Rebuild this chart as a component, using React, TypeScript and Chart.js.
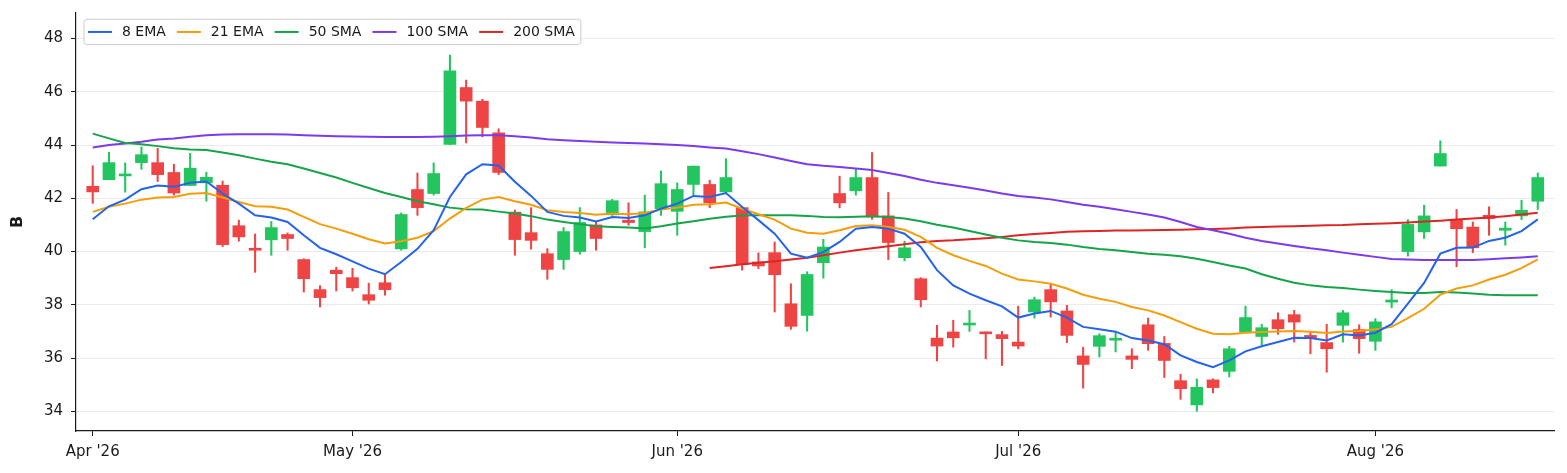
import React, { useEffect, useRef } from "react";
import { Chart, registerables } from "chart.js";

Chart.register(...registerables);

// one trading day per slot, index 0 = first session of April
const xTickPos = [0, 16, 36, 57, 79];
const xTickLabels = ["Apr '26", "May '26", "Jun '26", "Jul '26", "Aug '26"];
const yTicks = [34, 36, 38, 40, 42, 44, 46, 48];

const opens = [42.45, 42.70, 42.84, 43.34, 43.34, 42.97, 42.48, 42.58, 42.49, 40.97,
  40.10, 40.44, 40.64, 39.70, 38.57, 39.30, 39.02, 38.38, 38.83, 40.10,
  42.33, 42.18, 44.02, 46.16, 45.65, 44.46, 41.48, 40.71, 39.92, 39.70,
  40.00, 41.00, 41.38, 41.18, 40.75, 41.61, 41.51, 42.52, 42.52, 42.24,
  41.65, 39.61, 39.96, 38.04, 37.60, 39.58, 42.18, 42.28, 42.78, 41.34,
  39.77, 38.98, 36.75, 36.98, 37.24, 36.98, 36.88, 36.60, 37.73, 38.57,
  37.77, 36.08, 36.44, 36.67, 36.08, 37.25, 36.55, 35.15, 34.24, 35.18,
  35.50, 36.98, 36.81, 37.44, 37.63, 36.85, 36.58, 37.23, 37.07, 36.63,
  38.10, 40.00, 40.74, 43.21, 41.20, 40.92, 41.36, 40.80, 41.34, 41.89];

const highs = [43.22, 43.73, 43.33, 43.93, 43.88, 43.28, 43.69, 42.98, 42.65, 41.18,
  40.66, 41.13, 40.70, 39.73, 38.72, 39.41, 39.37, 38.81, 39.17, 41.45,
  42.95, 43.33, 47.38, 46.44, 45.72, 44.61, 41.56, 41.65, 40.11, 40.90,
  41.65, 41.11, 41.96, 41.83, 42.12, 43.03, 42.58, 43.21, 42.68, 43.49,
  41.65, 39.95, 40.36, 38.79, 39.24, 40.46, 42.83, 43.09, 43.72, 42.22,
  40.39, 39.02, 37.23, 37.42, 37.79, 36.98, 37.00, 37.95, 38.29, 38.76,
  37.98, 36.41, 36.91, 36.95, 36.35, 37.50, 36.81, 35.39, 35.22, 35.22,
  36.44, 37.95, 37.27, 37.70, 37.79, 36.98, 37.27, 37.79, 37.25, 37.48,
  38.57, 41.20, 41.74, 44.16, 41.58, 41.11, 41.68, 41.11, 41.93, 42.95];

const lows = [41.81, 42.70, 42.23, 43.09, 42.63, 42.12, 42.47, 41.89, 40.19, 40.39,
  39.22, 39.86, 40.05, 38.48, 37.92, 38.52, 38.52, 38.03, 38.36, 40.05,
  41.36, 42.12, 44.02, 44.08, 44.31, 42.89, 39.86, 40.09, 38.96, 39.33,
  39.90, 40.05, 41.36, 40.99, 40.14, 41.36, 40.61, 42.12, 41.65, 42.18,
  39.30, 39.36, 37.73, 37.08, 37.01, 39.00, 41.64, 42.12, 41.21, 39.70,
  39.65, 37.92, 35.89, 36.41, 37.00, 35.97, 35.72, 36.35, 37.50, 37.54,
  36.58, 34.87, 36.04, 36.23, 35.60, 36.29, 35.27, 34.45, 34.00, 34.69,
  35.29, 36.98, 36.48, 36.89, 36.60, 36.16, 35.47, 36.60, 36.18, 36.29,
  37.89, 39.83, 40.49, 43.21, 39.43, 39.96, 40.61, 40.24, 41.20, 41.58];

const closes = [42.24, 43.34, 42.89, 43.64, 42.89, 42.20, 43.13, 42.79, 40.26, 40.55,
  40.05, 40.90, 40.49, 38.98, 38.27, 39.17, 38.64, 38.17, 38.57, 41.39,
  41.65, 42.93, 46.79, 45.65, 44.66, 42.97, 40.45, 40.42, 39.33, 40.75,
  41.09, 40.49, 41.91, 41.09, 41.49, 42.55, 42.33, 43.21, 41.83, 42.78,
  39.51, 39.46, 39.13, 37.19, 39.14, 40.17, 41.83, 42.78, 41.30, 40.34,
  40.14, 38.19, 36.45, 36.76, 37.30, 36.91, 36.73, 36.45, 38.19, 38.11,
  36.85, 35.76, 36.84, 36.73, 35.95, 36.54, 35.91, 34.85, 34.90, 34.89,
  36.35, 37.52, 37.14, 37.10, 37.35, 36.75, 36.35, 37.70, 36.73, 37.36,
  38.18, 41.02, 41.34, 43.68, 40.86, 40.14, 41.24, 40.88, 41.55, 42.78];

const ema8 = [41.21, 41.70, 41.95, 42.34, 42.48, 42.43, 42.58, 42.63, 42.18, 41.80,
  41.36, 41.28, 41.11, 40.61, 40.14, 39.90, 39.63, 39.36, 39.15, 39.61,
  40.10, 40.80, 42.05, 42.90, 43.28, 43.23, 42.62, 42.09, 41.49, 41.34,
  41.28, 41.13, 41.30, 41.26, 41.36, 41.61, 41.80, 42.09, 42.05, 42.20,
  41.67, 41.18, 40.67, 39.92, 39.77, 39.98, 40.36, 40.86, 40.92, 40.86,
  40.67, 40.17, 39.30, 38.73, 38.42, 38.17, 37.94, 37.52, 37.67, 37.77,
  37.52, 37.17, 37.08, 36.99, 36.75, 36.66, 36.52, 36.10, 35.85, 35.66,
  35.91, 36.25, 36.44, 36.60, 36.76, 36.75, 36.66, 36.89, 36.85, 36.95,
  37.27, 38.04, 38.82, 39.92, 40.14, 40.15, 40.40, 40.52, 40.77, 41.21];

const ema21 = [41.49, 41.68, 41.80, 41.95, 42.03, 42.05, 42.17, 42.20, 42.03, 41.86,
  41.70, 41.68, 41.58, 41.30, 41.03, 40.86, 40.67, 40.46, 40.30, 40.39,
  40.52, 40.77, 41.24, 41.64, 41.95, 42.05, 41.89, 41.76, 41.55, 41.49,
  41.45, 41.38, 41.43, 41.40, 41.45, 41.58, 41.65, 41.76, 41.78, 41.84,
  41.61, 41.40, 41.20, 40.86, 40.71, 40.67, 40.80, 40.96, 40.99, 40.92,
  40.82, 40.55, 40.14, 39.86, 39.65, 39.46, 39.17, 38.95, 38.88, 38.79,
  38.61, 38.38, 38.23, 38.11, 37.92, 37.79, 37.60, 37.35, 37.10, 36.91,
  36.89, 36.95, 36.98, 37.00, 37.02, 36.99, 36.94, 37.00, 37.02, 37.08,
  37.17, 37.50, 37.85, 38.38, 38.61, 38.73, 38.95, 39.13, 39.38, 39.71];

const sma50 = [44.43, 44.25, 44.08, 44.03, 43.96, 43.88, 43.83, 43.81, 43.72, 43.62,
  43.49, 43.37, 43.28, 43.12, 42.95, 42.78, 42.58, 42.39, 42.20, 42.05,
  41.89, 41.78, 41.65, 41.59, 41.58, 41.50, 41.43, 41.33, 41.20, 41.11,
  41.03, 40.95, 40.92, 40.90, 40.87, 40.95, 41.05, 41.14, 41.23, 41.31,
  41.35, 41.36, 41.36, 41.36, 41.34, 41.30, 41.29, 41.31, 41.33, 41.30,
  41.24, 41.14, 41.01, 40.90, 40.77, 40.64, 40.52, 40.42, 40.36, 40.32,
  40.26, 40.17, 40.10, 40.05, 39.98, 39.92, 39.88, 39.82, 39.73, 39.61,
  39.48, 39.36, 39.15, 38.98, 38.83, 38.73, 38.67, 38.63, 38.57, 38.52,
  38.48, 38.44, 38.44, 38.48, 38.46, 38.42, 38.38, 38.36, 38.36, 38.36];

const sma100 = [43.91, 44.00, 44.06, 44.12, 44.21, 44.25, 44.31, 44.37, 44.40, 44.41,
  44.41, 44.41, 44.40, 44.37, 44.35, 44.33, 44.32, 44.31, 44.30, 44.30,
  44.30, 44.31, 44.33, 44.36, 44.37, 44.37, 44.33, 44.28, 44.22, 44.18,
  44.15, 44.12, 44.10, 44.08, 44.06, 44.03, 44.00, 43.96, 43.91, 43.87,
  43.77, 43.66, 43.53, 43.40, 43.28, 43.22, 43.18, 43.12, 43.06, 42.95,
  42.84, 42.70, 42.58, 42.49, 42.40, 42.29, 42.18, 42.09, 42.03, 41.96,
  41.86, 41.76, 41.68, 41.59, 41.49, 41.39, 41.28, 41.11, 40.92, 40.80,
  40.67, 40.52, 40.40, 40.30, 40.21, 40.12, 40.05, 39.96, 39.88, 39.80,
  39.72, 39.70, 39.68, 39.68, 39.68, 39.68, 39.71, 39.75, 39.78, 39.82];

// the 200 SMA only begins at session 38
const sma200Start = 38;
const sma200 = [39.38, 39.45, 39.52, 39.58, 39.64, 39.70, 39.77, 39.86, 39.96, 40.05,
  40.12, 40.20, 40.27, 40.35, 40.40, 40.42, 40.46, 40.50, 40.55, 40.61,
  40.66, 40.70, 40.74, 40.76, 40.77, 40.79, 40.79, 40.80, 40.81, 40.82,
  40.84, 40.85, 40.87, 40.90, 40.92, 40.94, 40.95, 40.97, 40.99, 41.00,
  41.03, 41.04, 41.06, 41.09, 41.13, 41.16, 41.20, 41.24, 41.28, 41.33,
  41.39, 41.46];

const UP = "#22c55e";
const DOWN = "#ef4444";
const FONT = "'DejaVu Sans', sans-serif";

// matplotlib-style legend frame inside the top-left of the plot
const legendBox = {
  id: "legendBox",
  afterDraw(chart: any) {
    const { ctx, chartArea } = chart;
    const items = chart.data.datasets.filter((d: any) => d.type === "line");
    ctx.save();
    ctx.font = "14px " + FONT;
    const lineLen = 24, gapText = 10, gapItem = 11;
    let w = 4;
    items.forEach((d: any) => {
      w += lineLen + gapText + ctx.measureText(d.label).width + gapItem;
    });
    w = w - gapItem + 6;
    const x0 = chartArea.left + 8, y0 = chartArea.top + 6.3, h = 25.3, r = 3;
    ctx.beginPath();
    ctx.roundRect(x0, y0, w, h, r);
    ctx.fillStyle = "rgba(255,255,255,0.8)";
    ctx.fill();
    ctx.strokeStyle = "#cccccc";
    ctx.lineWidth = 1;
    ctx.stroke();
    const cy = y0 + h / 2;
    let x = x0 + 4;
    ctx.textBaseline = "middle";
    ctx.textAlign = "left";
    items.forEach((d: any) => {
      ctx.beginPath();
      ctx.moveTo(x, cy);
      ctx.lineTo(x + lineLen, cy);
      ctx.strokeStyle = d.borderColor;
      ctx.lineWidth = 2;
      ctx.stroke();
      x += lineLen + gapText;
      ctx.fillStyle = "#1a1a1a";
      ctx.fillText(d.label, x, cy + 0.5);
      x += ctx.measureText(d.label).width + gapItem;
    });
    ctx.restore();
  },
};

const App = () => {
  const canvasEl = useRef<HTMLCanvasElement>(null);

  useEffect(() => {
    document.body.style.margin = "0";
    const ctx = canvasEl.current!.getContext("2d")!;
    const colors = opens.map((o, i) => (closes[i] >= o ? UP : DOWN));

    const maLine = (label: string, color: string, values: number[], start = 0) => ({
      type: "line",
      label,
      data: values.map((v, i) => ({ x: i + start, y: v })),
      borderColor: color,
      backgroundColor: color,
      borderWidth: 2,
      pointRadius: 0,
      tension: 0,
      fill: false,
    });

    const chart = new Chart(ctx, {
      type: "bar",
      data: {
        datasets: [
          maLine("8 EMA", "#2563eb", ema8),
          maLine("21 EMA", "#f59e0b", ema21),
          maLine("50 SMA", "#16a34a", sma50),
          maLine("100 SMA", "#7c3aed", sma100),
          maLine("200 SMA", "#dc2626", sma200, sma200Start),
          {
            type: "bar",
            label: "body",
            data: opens.map((o, i) => ({ x: i, y: [o, closes[i]] })),
            backgroundColor: colors,
            barThickness: 12,
            minBarLength: 2,
            grouped: false,
          },
          {
            type: "bar",
            label: "wick",
            data: lows.map((l, i) => ({ x: i, y: [l, highs[i]] })),
            backgroundColor: colors,
            barThickness: 1.4,
            grouped: false,
          },
        ],
      },
      options: {
        animation: false,
        responsive: true,
        maintainAspectRatio: false,
        layout: { padding: { top: 13, right: 13, left: 0, bottom: 0 } },
        plugins: {
          legend: { display: false },
          tooltip: { enabled: false },
        },
        scales: {
          x: {
            type: "linear",
            min: -1.03,
            max: 90,
            offset: false,
            afterFit: (s: any) => {
              s.height = 42;
              s.paddingLeft = 0;
              s.paddingRight = 0;
            },
            afterBuildTicks: (s: any) => { s.ticks = xTickPos.map((v) => ({ value: v })); },
            ticks: {
              autoSkip: false,
              maxRotation: 0,
              padding: 7,
              color: "#1a1a1a",
              font: { family: FONT, size: 15 },
              callback: (_v: any, i: number) => xTickLabels[i],
            },
            grid: { offset: false, drawOnChartArea: false, drawTicks: true, tickLength: 5, tickColor: "#1a1a1a", tickWidth: 1 },
            border: { display: true, color: "#1a1a1a", width: 1.2 },
          },
          y: {
            min: 33.26,
            max: 48.96,
            afterFit: (s: any) => {
              s.width = 76;
              s.paddingTop = 0;
              s.paddingBottom = 0;
            },
            afterBuildTicks: (s: any) => { s.ticks = yTicks.map((v) => ({ value: v })); },
            ticks: {
              padding: 8,
              color: "#1a1a1a",
              font: { family: FONT, size: 15 },
              callback: (v: any) => String(v),
            },
            grid: { color: "rgba(0,0,0,0.08)", lineWidth: 1, drawTicks: true, tickLength: 5, tickColor: "#1a1a1a" },
            border: { display: true, color: "#1a1a1a", width: 1.2 },
            title: {
              display: true,
              text: "B",
              color: "#1a1a1a",
              font: { family: FONT, size: 16, weight: "bold" },
              padding: { top: 8, bottom: 0 },
            },
          },
        },
      },
      plugins: [legendBox],
    } as any);

    return () => {
      chart.destroy();
    };
  }, []);

  return (
    <div style={{ position: "relative", width: 1567, height: 473 }}>
      <canvas ref={canvasEl}></canvas>
    </div>
  );
};

export default App;
